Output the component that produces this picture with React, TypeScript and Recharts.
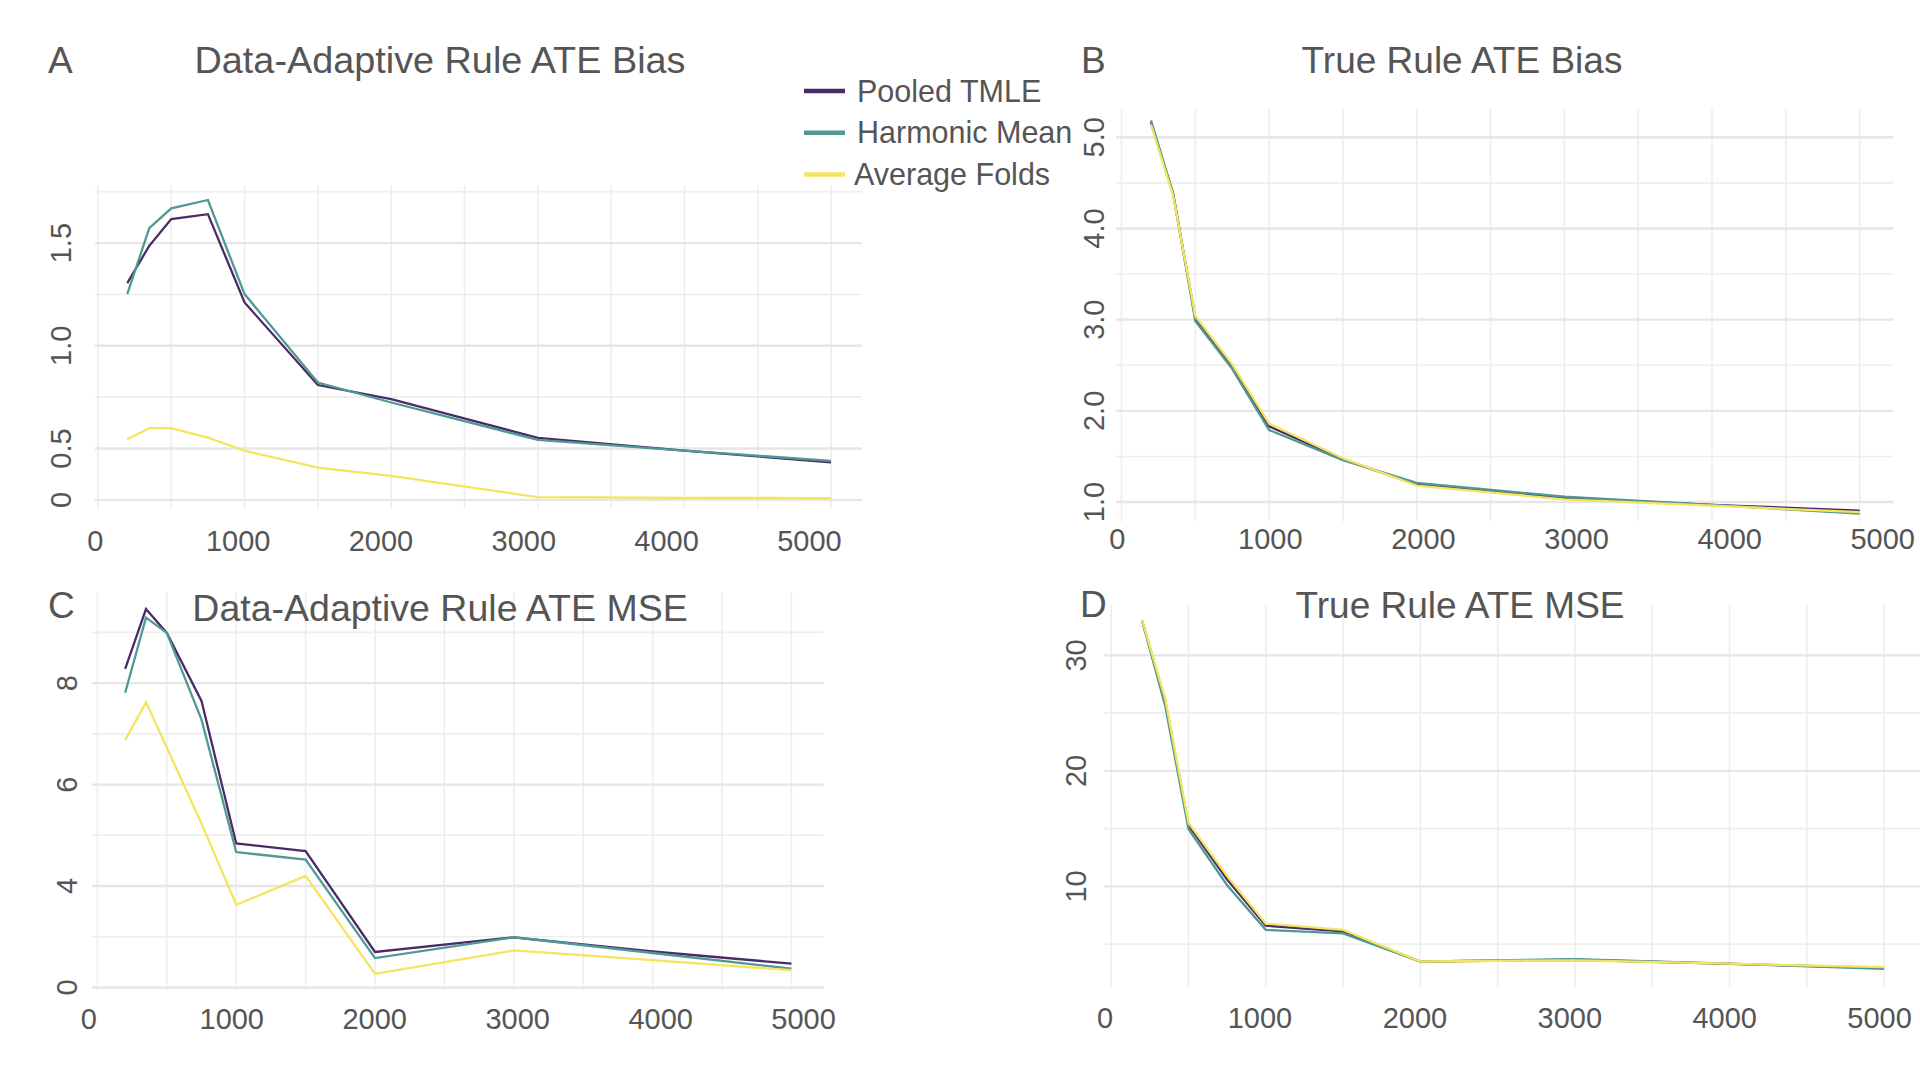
import React from 'react'
import { LineChart, Line, XAxis, YAxis, CartesianGrid } from 'recharts'

// sample sizes shared by every panel
const SAMPLE_SIZES = [200, 350, 500, 750, 1000, 1500, 2000, 3000, 4000, 5000]

const SERIES_KEYS = ['pooled', 'harmonic', 'average']
const SERIES_NAMES = ['Pooled TMLE', 'Harmonic Mean', 'Average Folds']
const SERIES_COLORS = ['#4b2b66', '#4f9893', '#f5e45e']

// A: data-adaptive rule, ATE bias
const daBiasPooled = [1.305, 1.487, 1.617, 1.641, 1.211, 0.809, 0.74, 0.552, 0.49, 0.433]
const daBiasHarmonic = [1.252, 1.573, 1.669, 1.71, 1.252, 0.821, 0.724, 0.542, 0.49, 0.44]
const daBiasAverage = [0.545, 0.599, 0.599, 0.553, 0.489, 0.407, 0.367, 0.263, 0.26, 0.258]

// B: true rule, ATE bias
const trBiasPooled = [5.16, 4.38, 3.02, 2.49, 1.83, 1.47, 1.19, 1.045, 0.97, 0.905]
const trBiasHarmonic = [5.185, 4.38, 2.985, 2.46, 1.79, 1.46, 1.21, 1.06, 0.97, 0.873]
const trBiasAverage = [5.14, 4.36, 3.04, 2.51, 1.86, 1.48, 1.18, 1.03, 0.96, 0.89]

// C: data-adaptive rule, ATE MSE
const daMsePooled = [8.28, 9.46, 8.99, 7.65, 4.84, 4.69, 2.7, 2.99, 2.71, 2.47]
const daMseHarmonic = [7.81, 9.29, 8.99, 7.28, 4.67, 4.52, 2.58, 2.99, 2.68, 2.37]
const daMseAverage = [6.88, 7.62, 6.73, 5.23, 3.63, 4.2, 2.27, 2.73, 2.54, 2.34]

// D: true rule, ATE MSE
const trMsePooled = [33.0, 26.0, 15.3, 10.6, 6.6, 6.1, 3.5, 3.65, 3.3, 2.95]
const trMseHarmonic = [33.0, 25.6, 14.96, 10.1, 6.24, 5.94, 3.49, 3.7, 3.31, 2.87]
const trMseAverage = [33.04, 26.2, 15.5, 10.9, 6.78, 6.24, 3.5, 3.6, 3.31, 3.01]

const X_TICKS = [0, 1000, 2000, 3000, 4000, 5000]
const X_GRID = [0, 500, 1000, 1500, 2000, 2500, 3000, 3500, 4000, 4500, 5000]

const aYTicks = [0.25, 0.5, 1.0, 1.5]
const aYLabels = ['0', '0.5', '1.0', '1.5']
const aYMinor = [0.75, 1.25, 1.75]

const bYTicks = [1, 2, 3, 4, 5]
const bYLabels = ['1.0', '2.0', '3.0', '4.0', '5.0']
const bYMinor = [1.5, 2.5, 3.5, 4.5]

const cYTicks = [2, 4, 6, 8]
const cYLabels = ['0', '4', '6', '8']
const cYMinor = [3, 5, 7, 9]

const dYTicks = [10, 20, 30]
const dYLabels = ['10', '20', '30']
const dYMinor = [5, 15, 25]

const TEXT = '#555555'
const FONT = '"Liberation Sans", Arial, Helvetica, sans-serif'

type Rect = { x0: number; y0: number; x1: number; y1: number }
type PanelCfg = {
  letter: string
  title: string
  series: number[][]
  yTicks: number[]
  yLabels: string[]
  yMinor: number[]
  yDomain: [number, number]
  xDomain: [number, number]
  plot: Rect
  yLabelDx: number
  xLabelDy: number
  // the x labels in the original are slightly out of step with the grid
  xLabelShift: number
  xLabelStretch: number
  titleX: number
  titleY: number
  titleSize: number
  letterX: number
  letterY: number
}

const PANELS: PanelCfg[] = [
  {
    letter: 'A', title: 'Data-Adaptive Rule ATE Bias',
    series: [daBiasPooled, daBiasHarmonic, daBiasAverage],
    yTicks: aYTicks, yLabels: aYLabels, yMinor: aYMinor,
    yDomain: [0.205, 1.783], xDomain: [-20, 5211],
    plot: { x0: 95, y0: 184.5, x1: 862, y1: 508.6 },
    yLabelDx: 34, xLabelDy: 31.5, xLabelShift: -2.6, xLabelStretch: 0.974,
    titleX: 440, titleY: 73, titleSize: 37.8, letterX: 48, letterY: 73,
  },
  {
    letter: 'B', title: 'True Rule ATE Bias',
    series: [trBiasPooled, trBiasHarmonic, trBiasAverage],
    yTicks: bYTicks, yLabels: bYLabels, yMinor: bYMinor,
    yDomain: [0.788, 5.31], xDomain: [-37, 5230],
    plot: { x0: 1116.4, y0: 108.6, x1: 1894, y1: 521 },
    yLabelDx: 21.7, xLabelDy: 17.3, xLabelShift: -4.2, xLabelStretch: 1.037,
    titleX: 1462, titleY: 73, titleSize: 37, letterX: 1081, letterY: 73,
  },
  {
    letter: 'C', title: 'Data-Adaptive Rule ATE MSE',
    series: [daMsePooled, daMseHarmonic, daMseAverage],
    yTicks: cYTicks, yLabels: cYLabels, yMinor: cYMinor,
    yDomain: [1.945, 9.796], xDomain: [-39, 5232],
    plot: { x0: 92, y0: 591.7, x1: 823.6, y1: 990 },
    yLabelDx: 25, xLabelDy: 28.7, xLabelShift: -8.6, xLabelStretch: 1.03,
    titleX: 440, titleY: 621, titleSize: 37.5, letterX: 48, letterY: 618,
  },
  {
    letter: 'D', title: 'True Rule ATE MSE',
    series: [trMsePooled, trMseHarmonic, trMseAverage],
    yTicks: dYTicks, yLabels: dYLabels, yMinor: dYMinor,
    yDomain: [1.31, 34.45], xDomain: [-46.6, 5232],
    plot: { x0: 1104, y0: 603.8, x1: 1920, y1: 986.6 },
    yLabelDx: 28, xLabelDy: 30.9, xLabelShift: -6.1, xLabelStretch: 1.002,
    titleX: 1460, titleY: 618, titleSize: 37, letterX: 1080, letterY: 617,
  },
]

function Panel({ p }: { p: PanelCfg }) {
  const yAxisW = 70
  const mt = 10
  const mr = 45
  const xAxisH = 60
  const plotW = p.plot.x1 - p.plot.x0
  const plotH = p.plot.y1 - p.plot.y0
  const pxPerUnit = plotW / (p.xDomain[1] - p.xDomain[0])
  const rows = SAMPLE_SIZES.map((n, i) => {
    const row: Record<string, number> = { n }
    SERIES_KEYS.forEach((k, s) => { row[k] = p.series[s][i] })
    return row
  })

  const xTick = (props: any) => {
    const v = props.payload.value
    const zeroX = props.x - v * pxPerUnit
    const lx = zeroX + p.xLabelShift + v * pxPerUnit * p.xLabelStretch
    return (
      <text x={lx} y={props.y + p.xLabelDy} textAnchor="middle" dominantBaseline="central"
        fontSize={29} fill={TEXT} fontFamily={FONT}>
        {v}
      </text>
    )
  }
  const yTick = (props: any) => {
    const lx = props.x - p.yLabelDx
    const label = p.yLabels[p.yTicks.indexOf(props.payload.value)]
    return (
      <text x={lx} y={props.y} transform={`rotate(-90, ${lx}, ${props.y})`} textAnchor="middle"
        dominantBaseline="central" fontSize={29} fill={TEXT} fontFamily={FONT}>
        {label}
      </text>
    )
  }

  return (
    <div style={{ position: 'absolute', left: p.plot.x0 - yAxisW, top: p.plot.y0 - mt }}>
      <LineChart width={yAxisW + plotW + mr} height={mt + plotH + xAxisH} data={rows}
        margin={{ top: mt, right: mr, bottom: 0, left: 0 }}>
        <CartesianGrid horizontalValues={p.yMinor} verticalValues={X_GRID} stroke="#eeeeee" strokeWidth={1.6} />
        <CartesianGrid horizontalValues={p.yTicks} vertical={false} stroke="#e6e6e6" strokeWidth={2.4} />
        <XAxis dataKey="n" type="number" domain={p.xDomain} ticks={X_TICKS} allowDataOverflow
          axisLine={false} tickLine={false} tickSize={0} tickMargin={0} height={xAxisH} tick={xTick} interval={0} />
        <YAxis type="number" domain={p.yDomain} ticks={p.yTicks} allowDataOverflow
          axisLine={false} tickLine={false} tickSize={0} tickMargin={0} width={yAxisW} tick={yTick} interval={0} />
        {SERIES_KEYS.map((k, s) => (
          <Line key={k} type="linear" dataKey={k} stroke={SERIES_COLORS[s]} strokeWidth={2.3}
            dot={false} isAnimationActive={false} />
        ))}
      </LineChart>
    </div>
  )
}

export default function App() {
  return (
    <div style={{ position: 'fixed', left: 0, top: 0, width: 1920, height: 1080, background: '#fff', overflow: 'hidden', fontFamily: FONT }}>
      {PANELS.map(p => <Panel key={p.letter} p={p} />)}
      <svg width={1920} height={1080} style={{ position: 'absolute', left: 0, top: 0, pointerEvents: 'none' }}>
        {PANELS.map(p => (
          <g key={p.letter} fill={TEXT} fontFamily={FONT}>
            <text x={p.letterX} y={p.letterY} fontSize={37}>{p.letter}</text>
            <text x={p.titleX} y={p.titleY} fontSize={p.titleSize} textAnchor="middle">{p.title}</text>
          </g>
        ))}
        {SERIES_NAMES.map((name, s) => {
          const ly = 91 + s * 41.7
          return (
            <g key={name}>
              <line x1={804} x2={845} y1={ly} y2={ly} stroke={SERIES_COLORS[s]} strokeWidth={4.5} />
              <text x={s === 2 ? 854 : 857} y={ly + 10.7} fontSize={30.5} fill={TEXT} fontFamily={FONT}>{name}</text>
            </g>
          )
        })}
      </svg>
    </div>
  )
}
